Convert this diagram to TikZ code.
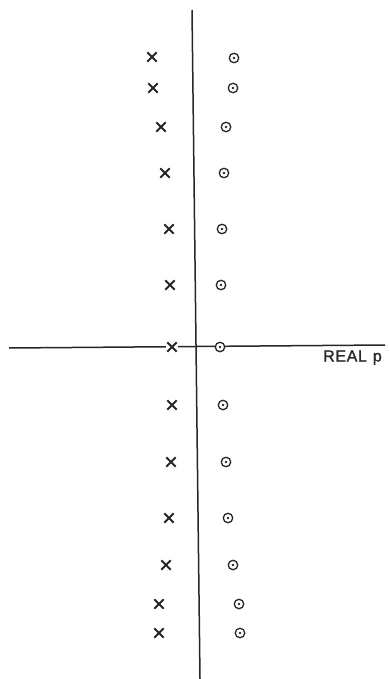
\documentclass[tikz,border=0pt]{standalone}
\usepackage{fontspec}
\setmainfont{Liberation Sans}
\usetikzlibrary{shapes.misc}
\tikzset{
  axis/.style={line width=1.5pt, black!85},
  pole/.style={draw, cross out, minimum size=7.5pt, inner sep=0pt, line width=1.8pt, black!85},
  zero/.style={draw, circle, minimum size=9.5pt, inner sep=0pt, line width=1.3pt, black!85,
    path picture={\fill[black!85] (path picture bounding box.center) circle (1.4pt);}},
  lbl/.style={font=\fontsize{16}{17}\selectfont\addfontfeature{FakeBold=1.2,LetterSpace=4}, text=black!85, inner sep=0pt, anchor=base west}
}
\begin{document}
\begin{tikzpicture}[x=1pt,y=-1pt]
\useasboundingbox (0,0) rectangle (390,679);
\coordinate (vt) at (192,10);
\coordinate (vb) at (200,679);
\coordinate (hl) at (9,348);
\coordinate (hr) at (385,345);
\draw[axis] (vt) -- (vb);
\draw[axis] (hl) -- (hr);
\node[lbl] (real) at (323,361.5) {REAL\hspace{6pt}p};
% poles
\node[pole] (x1) at (152,57) {};
\node[pole] (x2) at (153,88) {};
\node[pole] (x3) at (161,127) {};
\node[pole] (x4) at (165,173) {};
\node[pole] (x5) at (169,229) {};
\node[pole] (x6) at (170,285) {};
\fill[white] (166,343) rectangle (178,351);
\node[pole] (x7) at (172,347) {};
\node[pole] (x8) at (172,405) {};
\node[pole] (x9) at (171,462) {};
\node[pole] (x10) at (169,518) {};
\node[pole] (x11) at (166,565) {};
\node[pole] (x12) at (159,604) {};
\node[pole] (x13) at (159,633) {};
% zeros
\node[zero, fill=white] (o1) at (234,58) {};
\node[zero, fill=white] (o2) at (233,88) {};
\node[zero, fill=white] (o3) at (226,127) {};
\node[zero, fill=white] (o4) at (224,173) {};
\node[zero, fill=white] (o5) at (222,229) {};
\node[zero, fill=white] (o6) at (221,285) {};
\node[zero, fill=white] (o7) at (220,347) {};
\node[zero, fill=white] (o8) at (223,405) {};
\node[zero, fill=white] (o9) at (226,462) {};
\node[zero, fill=white] (o10) at (228,518) {};
\node[zero, fill=white] (o11) at (233,565) {};
\node[zero, fill=white] (o12) at (239,604) {};
\node[zero, fill=white] (o13) at (240,633) {};
\end{tikzpicture}
\end{document}
